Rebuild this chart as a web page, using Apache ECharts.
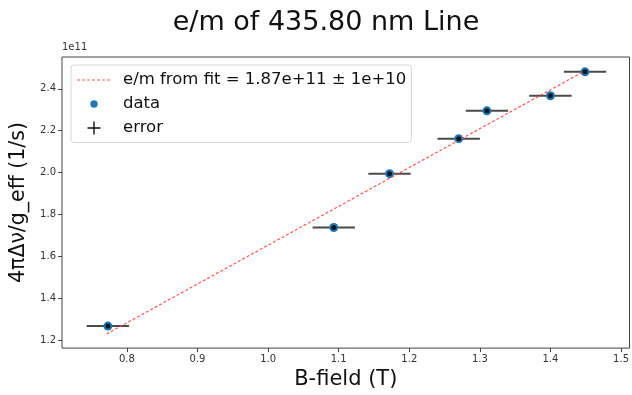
<!DOCTYPE html>
<html>
<head>
<meta charset="utf-8">
<script src="https://cdn.jsdelivr.net/npm/echarts@6/dist/echarts.min.js"></script>
<style>
  html, body { margin: 0; padding: 0; background: #fff; }
  #chart { width: 632px; height: 395px; }
</style>
</head>
<body>
<div id="chart"></div>
<script>
// Measured splitting rate vs. magnetic field, 435.80 nm line
const bField = [0.773, 1.093, 1.172, 1.270, 1.310, 1.400, 1.449];
const rate = [1.267e11, 1.738e11, 1.995e11, 2.162e11, 2.295e11, 2.367e11, 2.481e11];
const bError = [0.03, 0.03, 0.03, 0.03, 0.03, 0.03, 0.03];

// Straight-line fit endpoints
const fitX = [0.771, 1.449];
const fitY = [1.229e11, 2.486e11];

const xTicks = [0.8, 0.9, 1.0, 1.1, 1.2, 1.3, 1.4, 1.5];
const yTicks = [1.2e11, 1.4e11, 1.6e11, 1.8e11, 2.0e11, 2.2e11, 2.4e11];

const fitName = 'e/m from fit = 1.87e+11 \u00b1 1e+10';
const FONT = 'DejaVu Sans';

const pts = bField.map((b, i) => [b, rate[i]]);
const errPts = bField.map((b, i) => [b, rate[i], bError[i]]);
const fitPts = fitX.map((x, i) => [x, fitY[i]]);

// Legend glyphs drawn in a 41x14 box (the leading moves pin the box size)
const ICON_BOX = 'M0,0 M41,14 ';
let dashPath = '';
for (let x = 0; x < 34; x += 5) {
  dashPath += 'M' + x + ',6.4 H' + Math.min(x + 3, 34) + ' V7.6 H' + x + ' Z ';
}
const fitIcon = 'path://' + ICON_BOX + dashPath;
const dotIcon = 'path://' + ICON_BOX + 'M13.3,7 A3.7,3.7 0 1,1 20.7,7 A3.7,3.7 0 1,1 13.3,7 Z';
const crossIcon = 'path://' + ICON_BOX + 'M16.3,0.5 H17.7 V6.3 H23.5 V7.7 H17.7 V13.5 H16.3 V7.7 H10.5 V6.3 H16.3 Z';

const chart = echarts.init(document.getElementById('chart'), null, { renderer: 'canvas' });

chart.setOption({
  animation: false,
  backgroundColor: '#fff',
  textStyle: { fontFamily: FONT },
  title: {
    text: 'e/m of 435.80 nm Line',
    left: 321, textAlign: 'center',
    top: 4,
    textStyle: { fontFamily: FONT, fontSize: 27, fontWeight: 'normal', color: '#111' }
  },
  grid: {
    left: 62, right: 2, top: 57, bottom: 46,
    show: true, borderColor: '#444', borderWidth: 1, backgroundColor: 'transparent'
  },
  legend: {
    left: 71, top: 65,
    orient: 'vertical',
    padding: [6.5, 5, 6, 6],
    itemGap: 7,
    itemWidth: 41, itemHeight: 14,
    backgroundColor: '#fff',
    borderColor: '#d6d6d6', borderWidth: 1, borderRadius: 3,
    textStyle: { fontFamily: FONT, fontSize: 16.5, color: '#111' },
    data: [
      { name: fitName, icon: fitIcon, itemStyle: { color: '#ff3b3b', opacity: 0.85 } },
      { name: 'data', icon: dotIcon, itemStyle: { color: '#1f77b4' } },
      { name: 'error', icon: crossIcon, itemStyle: { color: '#111' } }
    ]
  },
  xAxis: {
    type: 'value',
    min: 0.708, max: 1.512,
    name: 'B-field (T)',
    nameLocation: 'middle',
    nameGap: 18,
    nameTextStyle: { fontFamily: FONT, fontSize: 21, color: '#111' },
    axisLine: { show: false },
    splitLine: { show: false },
    axisTick: { show: true, length: 4, inside: false, customValues: xTicks, lineStyle: { color: '#444' } },
    axisLabel: {
      customValues: xTicks, fontSize: 10, color: '#333', margin: 6,
      formatter: v => v.toFixed(1)
    }
  },
  yAxis: {
    type: 'value',
    min: 1.162e11, max: 2.552e11,
    name: '4\u03c0\u0394\u03bd/g_eff (1/s)',
    nameLocation: 'middle',
    nameGap: 31,
    nameTextStyle: { fontFamily: FONT, fontSize: 20.5, color: '#111' },
    axisLine: { show: false },
    splitLine: { show: false },
    axisTick: { show: true, length: 4, inside: false, customValues: yTicks, lineStyle: { color: '#444' } },
    axisLabel: {
      customValues: yTicks, fontSize: 10, color: '#333', margin: 6,
      formatter: v => (v / 1e11).toFixed(1)
    }
  },
  graphic: [
    { type: 'text', left: 62, top: 42, style: { text: '1e11', font: '10px "' + FONT + '"', fill: '#333' } }
  ],
  series: [
    {
      name: fitName,
      type: 'line',
      data: fitPts,
      symbol: 'none',
      z: 4,
      lineStyle: { color: '#ff3b3b', width: 1.2, type: [3, 2], opacity: 0.85 },
      itemStyle: { color: '#ff3b3b' }
    },
    {
      name: 'error',
      type: 'custom',
      data: errPts,
      z: 2,
      renderItem(params, api) {
        const x = api.value(0), y = api.value(1), e = api.value(2);
        const a = api.coord([x - e, y]);
        const b = api.coord([x + e, y]);
        return {
          type: 'line',
          shape: { x1: a[0], y1: a[1], x2: b[0], y2: b[1] },
          style: { stroke: '#4a4a4a', lineWidth: 2 }
        };
      }
    },
    {
      name: 'data',
      type: 'scatter',
      data: pts,
      symbol: 'circle',
      symbolSize: 9,
      z: 3,
      itemStyle: { color: '#1f77b4', opacity: 1 }
    },
    {
      name: 'error',
      type: 'scatter',
      data: pts,
      symbol: 'circle',
      symbolSize: 5,
      z: 5,
      itemStyle: { color: '#000' }
    }
  ]
});
</script>
</body>
</html>
